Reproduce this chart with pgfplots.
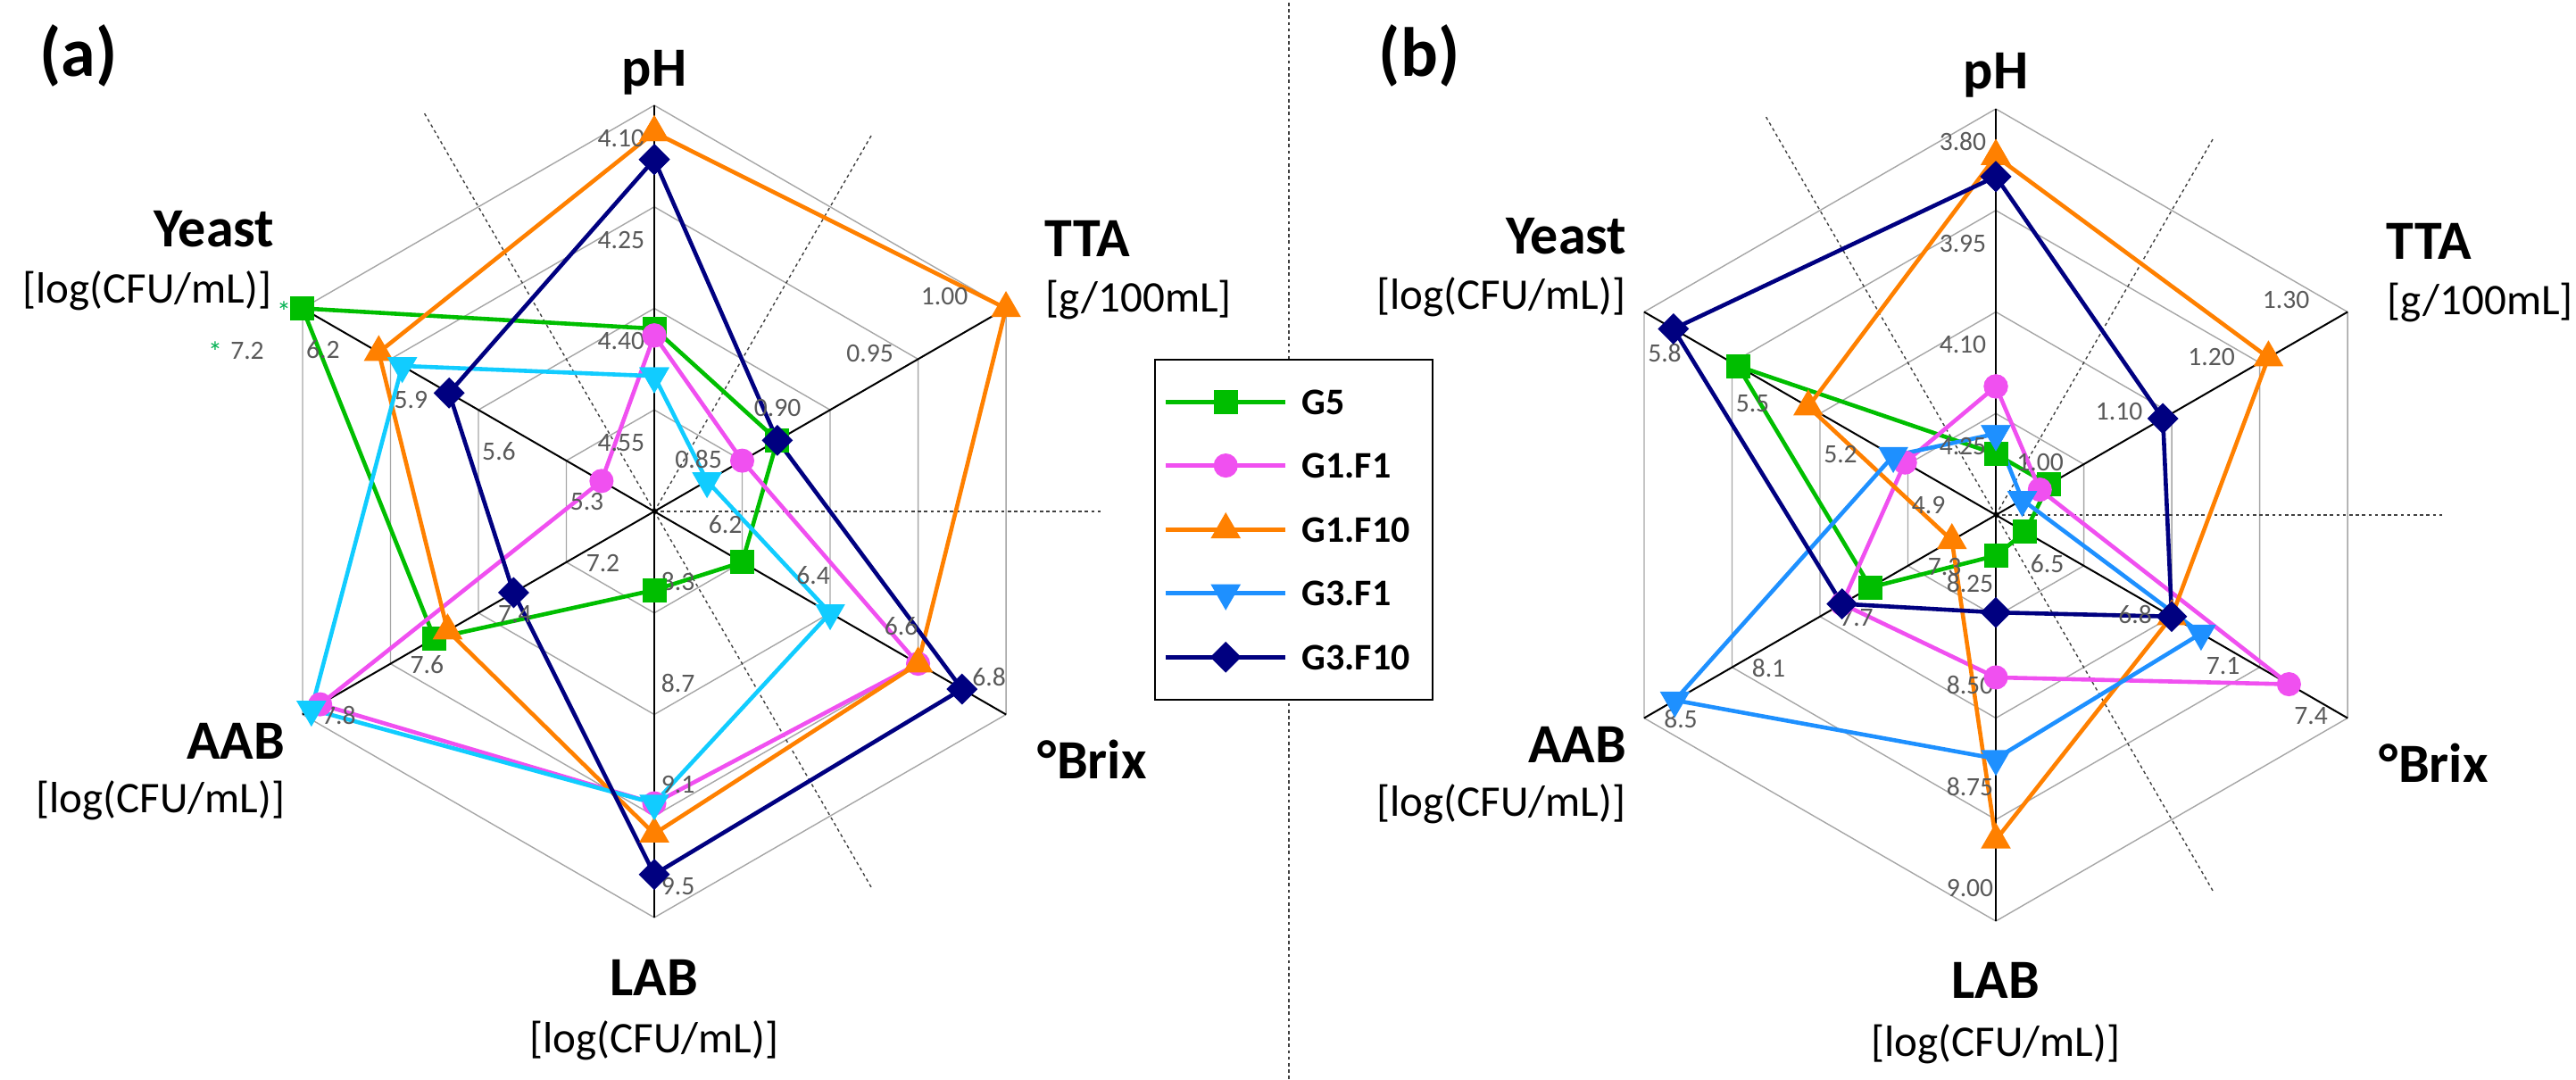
\documentclass[border=0pt]{standalone}
\usepackage{fontspec}
\setmainfont{Carlito}
\usepackage{pgfplots}
\usepackage{pgfplotstable}
\pgfplotsset{compat=1.18}

\definecolor{cGfive}{RGB}{0,190,0}
\definecolor{cGoneFone}{RGB}{240,80,240}
\definecolor{cGoneFten}{RGB}{255,128,0}
\definecolor{cGthreeFoneA}{RGB}{17,204,255}
\definecolor{cGthreeFone}{RGB}{30,144,255}
\definecolor{cGthreeFten}{RGB}{0,0,128}
\definecolor{tickgray}{RGB}{89,89,89}
\definecolor{gridgray}{RGB}{166,166,166}
\definecolor{astgreen}{RGB}{0,176,80}

% one row per spoke: angle, value at centre, step per ring, then the series
% (first row repeated to close the polygon)
\pgfplotstableread{
a    lo    st     G5    G1F1  G1F10 G3F1  G3F10
90   4.70  -0.15  4.43  4.44  4.14  4.50  4.18
30   0.80  0.05   0.87  0.85  1.00  0.83  0.87
-30  6.0   0.2    6.20  6.60  6.60  6.40  6.70
-90  7.9   0.4    8.21  9.05  9.17  9.05  9.33
210  7.0   0.2    7.50  7.76  7.47  7.78  7.32
150  5.0   0.3    7.20  5.18  5.94  5.86  5.70
90   4.70  -0.15  4.43  4.44  4.14  4.50  4.18
}\radarA

\pgfplotstableread{
a    lo    st     G5    G1F1  G1F10 G3F1  G3F10
90   4.40  -0.15  4.31  4.21  3.87  4.28  3.90
30   0.90  0.10   0.96  0.95  1.21  0.93  1.09
-30  6.2   0.3    6.30  7.20  6.80  6.90  6.80
-90  8.00  0.25   8.10  8.40  8.80  8.60  8.24
210  6.9   0.4    7.47  7.60  7.10  8.36  7.60
150  4.6   0.3    5.48  4.91  5.24  4.95  5.70
90   4.40  -0.15  4.31  4.21  3.87  4.28  3.90
}\radarB

% picture units are pixels of the reference, 1 px = 0.25pt, ring = 113.75 px
\newcommand\Ru{28.4375pt}

\pgfplotsset{
  /pgfplots/table/radar/.style n args={3}{
    /pgfplots/table/x expr={#1+113.75*min((\thisrow{#3}-\thisrow{lo})/(\thisrow{st}),4)*cos(\thisrow{a})},
    /pgfplots/table/y expr={#2+113.75*min((\thisrow{#3}-\thisrow{lo})/(\thisrow{st}),4)*sin(\thisrow{a})},
  },
  ser/.style={line width=1.15pt, mark options={solid}},
  sGfive/.style={ser, color=cGfive, mark=square*, mark size=2.8pt},
  sGoneFone/.style={ser, color=cGoneFone, mark=*, mark size=2.8pt},
  sGoneFten/.style={ser, color=cGoneFten, mark=triangle*, mark size=3.7pt},
  sGthreeFone/.style={ser, color=#1, mark=triangle*, mark size=3.7pt, mark options={rotate=180}},
  sGthreeFten/.style={ser, color=cGthreeFten, mark=square*, mark size=2.5pt, mark options={rotate=45}},
}

\tikzset{
  gridl/.style={draw=gridgray, line width=0.35pt},
  spoke/.style={draw=black, line width=0.5pt},
  dashl/.style={draw=black!75, line width=0.35pt, dash pattern=on 0.9pt off 0.9pt},
  tick/.style={font=\fontsize{7.4}{8.5}\selectfont, text=tickgray, inner sep=0pt},
  ttl/.style={font=\fontsize{15.5}{18}\selectfont\bfseries, inner sep=0pt},
  unit/.style={font=\fontsize{12.25}{14}\selectfont, inner sep=0pt},
  plab/.style={font=\fontsize{19.5}{22}\selectfont\bfseries, inner sep=0pt},
}

\newcommand\hexring[3]{%
  \draw[gridl] ([shift={(90:#3*\Ru)}]axis cs:#1,#2) -- ([shift={(30:#3*\Ru)}]axis cs:#1,#2)
    -- ([shift={(-30:#3*\Ru)}]axis cs:#1,#2) -- ([shift={(-90:#3*\Ru)}]axis cs:#1,#2)
    -- ([shift={(210:#3*\Ru)}]axis cs:#1,#2) -- ([shift={(150:#3*\Ru)}]axis cs:#1,#2) -- cycle;}
\newcommand\spk[3]{\draw[spoke] (axis cs:#1,#2) -- ([shift={(#3:4*\Ru)}]axis cs:#1,#2);}
\newcommand\dray[4]{\draw[dashl] (axis cs:#1,#2) -- ([shift={(#3:#4)}]axis cs:#1,#2);}
\newcommand\radargrid[2]{%
  \hexring{#1}{#2}{1}\hexring{#1}{#2}{2}\hexring{#1}{#2}{3}\hexring{#1}{#2}{4}%
  \dray{#1}{#2}{0}{125pt}\dray{#1}{#2}{60}{122pt}\dray{#1}{#2}{120}{129pt}\dray{#1}{#2}{-60}{122pt}%
  \spk{#1}{#2}{90}\spk{#1}{#2}{30}\spk{#1}{#2}{-30}\spk{#1}{#2}{-90}\spk{#1}{#2}{210}\spk{#1}{#2}{150}}
% tick label: [anchor]{cx}{cy}{angle}{ring}{dx}{dy}{text}
\newcommand\tl[8][center]{\node[tick, anchor=#1] at ([shift={(#4:#5*\Ru)}, xshift=#6*0.25pt, yshift=#7*0.25pt]axis cs:#2,#3) {#8};}

\begin{document}
\begin{tikzpicture}
\begin{axis}[
  name=ax,
  width=721.5pt, height=302.25pt, scale only axis,
  xmin=0, xmax=2886, ymin=0, ymax=1209,
  hide axis, clip=false,
  legend image code/.code={\draw[mark repeat=2,mark phase=2] plot coordinates {(0pt,0pt) (16.75pt,0pt) (33.5pt,0pt)};},
  legend cell align=left,
  legend style={
    at={(axis description cs:0.448,0.6675)}, anchor=north west,
    draw=black, line width=0.5pt, fill=white,
    inner xsep=2.5pt, inner ysep=8.4pt, row sep=10.75pt,
    font=\fontsize{10.5}{12}\selectfont\bfseries,
    nodes={inner sep=0pt, text height=7pt, text depth=0pt, text width=34pt},
    /tikz/column 1/.style={column sep=4pt},
  },
]
% grids
\radargrid{733}{636}
\radargrid{2236}{632}
\draw[dashl] (axis cs:1444,0) -- (axis cs:1444,1209);

% panel (a)
\addplot[sGfive, forget plot] table[radar={733}{636}{G5}] {\radarA};
\addplot[sGoneFone, forget plot] table[radar={733}{636}{G1F1}] {\radarA};
\addplot[sGoneFten, forget plot] table[radar={733}{636}{G1F10}] {\radarA};
\addplot[sGthreeFone=cGthreeFoneA, forget plot] table[radar={733}{636}{G3F1}] {\radarA};
\addplot[sGthreeFten, forget plot] table[radar={733}{636}{G3F10}] {\radarA};

% panel (b)
\addplot[sGfive] table[radar={2236}{632}{G5}] {\radarB};
\addlegendentry{G5}
\addplot[sGoneFone] table[radar={2236}{632}{G1F1}] {\radarB};
\addlegendentry{G1.F1}
\addplot[sGoneFten] table[radar={2236}{632}{G1F10}] {\radarB};
\addlegendentry{G1.F10}
\addplot[sGthreeFone=cGthreeFone] table[radar={2236}{632}{G3F1}] {\radarB};
\addlegendentry{G3.F1}
\addplot[sGthreeFten] table[radar={2236}{632}{G3F10}] {\radarB};
\addlegendentry{G3.F10}

% tick labels (a)
\tl[east]{733}{636}{90}{1}{-10}{-37}{4.55}
\tl[east]{733}{636}{90}{2}{-10}{-37}{4.40}
\tl[east]{733}{636}{90}{3}{-10}{-37}{4.25}
\tl[east]{733}{636}{90}{4}{-10}{-37}{4.10}
\tl{733}{636}{30}{1}{-49}{2}{0.85}
\tl{733}{636}{30}{2}{-59}{2}{0.90}
\tl{733}{636}{30}{3}{-54}{6}{0.95}
\tl{733}{636}{30}{4}{-69}{13}{1.00}
\tl{733}{636}{-30}{1}{-19}{42}{6.2}
\tl{733}{636}{-30}{2}{-19}{42}{6.4}
\tl{733}{636}{-30}{3}{-19}{42}{6.6}
\tl{733}{636}{-30}{4}{-19}{42}{6.8}
\tl[west]{733}{636}{-90}{1}{7}{35}{8.3}
\tl[west]{733}{636}{-90}{2}{7}{35}{8.7}
\tl[west]{733}{636}{-90}{3}{7}{35}{9.1}
\tl[west]{733}{636}{-90}{4}{7}{35}{9.5}
\tl{733}{636}{210}{1}{41}{-1}{7.2}
\tl{733}{636}{210}{2}{41}{-1}{7.4}
\tl{733}{636}{210}{3}{41}{-1}{7.6}
\tl{733}{636}{210}{4}{41}{-1}{7.8}
\tl{733}{636}{150}{1}{23}{-46}{5.3}
\tl{733}{636}{150}{2}{23}{-46}{5.6}
\tl{733}{636}{150}{3}{23}{-46}{5.9}
\tl{733}{636}{150}{4}{23}{-46}{6.2}
\node[inner sep=0pt, text=astgreen, font=\fontsize{8}{8}\selectfont] at (axis cs:318,860) {*};
\node[inner sep=0pt, text=astgreen, font=\fontsize{8}{8}\selectfont] at (axis cs:241,815) {*};
\node[tick] at (axis cs:277,816) {7.2};

% tick labels (b)
\tl[east]{2236}{632}{90}{1}{-10}{-37}{4.25}
\tl[east]{2236}{632}{90}{2}{-10}{-37}{4.10}
\tl[east]{2236}{632}{90}{3}{-10}{-37}{3.95}
\tl[east]{2236}{632}{90}{4}{-10}{-37}{3.80}
\tl{2236}{632}{30}{1}{-49}{2}{1.00}
\tl{2236}{632}{30}{2}{-59}{2}{1.10}
\tl{2236}{632}{30}{3}{-54}{6}{1.20}
\tl{2236}{632}{30}{4}{-69}{13}{1.30}
\tl{2236}{632}{-30}{1}{-41}{2}{6.5}
\tl{2236}{632}{-30}{2}{-41}{2}{6.8}
\tl{2236}{632}{-30}{3}{-41}{2}{7.1}
\tl{2236}{632}{-30}{4}{-41}{2}{7.4}
\tl[east]{2236}{632}{-90}{1}{-2}{37}{8.25}
\tl[east]{2236}{632}{-90}{2}{-2}{37}{8.50}
\tl[east]{2236}{632}{-90}{3}{-2}{37}{8.75}
\tl[east]{2236}{632}{-90}{4}{-2}{37}{9.00}
\tl{2236}{632}{210}{1}{41}{-1}{7.3}
\tl{2236}{632}{210}{2}{41}{-1}{7.7}
\tl{2236}{632}{210}{3}{41}{-1}{8.1}
\tl{2236}{632}{210}{4}{41}{-1}{8.5}
\tl{2236}{632}{150}{1}{23}{-46}{4.9}
\tl{2236}{632}{150}{2}{23}{-46}{5.2}
\tl{2236}{632}{150}{3}{23}{-46}{5.5}
\tl{2236}{632}{150}{4}{23}{-46}{5.8}

% titles (a)
\node[plab] at (axis cs:88,1147) {(a)};
\node[ttl, anchor=base] at (axis cs:733,1112) {pH};
\node[ttl, anchor=base west] at (axis cs:1170,921) {TTA};
\node[unit, anchor=base west] at (axis cs:1171,859) {[g/100mL]};
\node[ttl, anchor=base west] at (axis cs:1162,336) {°Brix};
\node[ttl, anchor=base] at (axis cs:733,94) {LAB};
\node[unit, anchor=base] at (axis cs:733,29) {[log(CFU/mL)]};
\node[ttl, anchor=base east] at (axis cs:308,932) {Yeast};
\node[unit, anchor=base east] at (axis cs:305,869) {[log(CFU/mL)]};
\node[ttl, anchor=base east] at (axis cs:320,358) {AAB};
\node[unit, anchor=base east] at (axis cs:320,298) {[log(CFU/mL)]};

% titles (b)
\node[plab] at (axis cs:1590,1147) {(b)};
\node[ttl, anchor=base] at (axis cs:2236,1109) {pH};
\node[ttl, anchor=base west] at (axis cs:2673,918) {TTA};
\node[unit, anchor=base west] at (axis cs:2674,856) {[g/100mL]};
\node[ttl, anchor=base west] at (axis cs:2665,332) {°Brix};
\node[ttl, anchor=base] at (axis cs:2236,90) {LAB};
\node[unit, anchor=base] at (axis cs:2236,25) {[log(CFU/mL)]};
\node[ttl, anchor=base east] at (axis cs:1823,924) {Yeast};
\node[unit, anchor=base east] at (axis cs:1822,862) {[log(CFU/mL)]};
\node[ttl, anchor=base east] at (axis cs:1823,354) {AAB};
\node[unit, anchor=base east] at (axis cs:1822,294) {[log(CFU/mL)]};
\end{axis}
\pgfresetboundingbox
\path[use as bounding box] (ax.south west) rectangle (ax.north east);
\end{tikzpicture}
\end{document}
